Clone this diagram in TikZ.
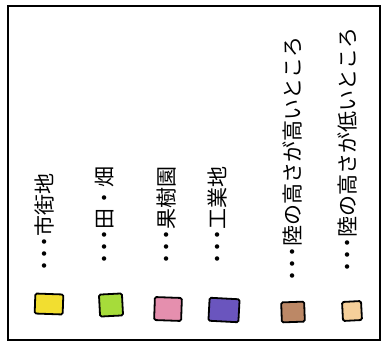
\documentclass[tikz,border=0pt]{standalone}
\usepackage{fontspec}
\newfontfamily\jpfont{Noto Sans CJK JP}
\usepackage{tikz}
\definecolor{swyellow}{RGB}{242,222,48}
\definecolor{swgreen}{RGB}{166,220,58}
\definecolor{swpink}{RGB}{229,143,174}
\definecolor{swpurple}{RGB}{106,85,190}
\definecolor{swbrown}{RGB}{188,136,102}
\definecolor{swbeige}{RGB}{245,207,154}
\newcommand{\tensen}{・\kern-.42em・\kern-.42em・\kern-.22em}
\tikzset{
    frame/.style={draw, line width=2.4pt},
    swatch/.style={draw, line width=1.8pt, rounded corners=1.5pt, inner sep=0pt},
    legend/.style={rotate=90, anchor=west, inner sep=0pt,
        font=\jpfont\fontsize{21}{21}\selectfont}
}
\begin{document}
\begin{tikzpicture}[x=1pt, y=1pt]
        \useasboundingbox (0,0) rectangle (382,343);
        \draw[frame] (8,3) rectangle (380,337);

        % legend texts
        \node[legend] (lb-city) at (44,66) {\tensen 市街地};
        \node[legend] (lb-field) at (105,73) {\tensen 田・畑};
        \node[legend] (lb-orchard) at (167,73) {\tensen 果樹園};
        \node[legend] (lb-industry) at (218,73) {\tensen 工業地};
        \node[legend] (lb-high) at (292,56) {\tensen 陸の高さが高いところ};
        \node[legend] (lb-low) at (347,65) {\tensen 陸の高さが低いところ};

        % colour swatches
        \node[swatch, fill=swyellow, minimum width=28, minimum height=20, rotate=-2] (sw-city) at (49,39) {};
        \node[swatch, fill=swgreen, minimum width=23, minimum height=22, rotate=3] (sw-field) at (111,38) {};
        \node[swatch, fill=swpink, minimum width=27, minimum height=23, rotate=-2] (sw-orchard) at (168,34) {};
        \node[swatch, fill=swpurple, minimum width=30, minimum height=23, rotate=-3] (sw-industry) at (224,33) {};
        \node[swatch, fill=swbrown, minimum width=23, minimum height=20, rotate=2] (sw-high) at (293,31) {};
        \node[swatch, fill=swbeige, minimum width=19, minimum height=19, rotate=3] (sw-low) at (352,32) {};
    \end{tikzpicture}
\end{document}
